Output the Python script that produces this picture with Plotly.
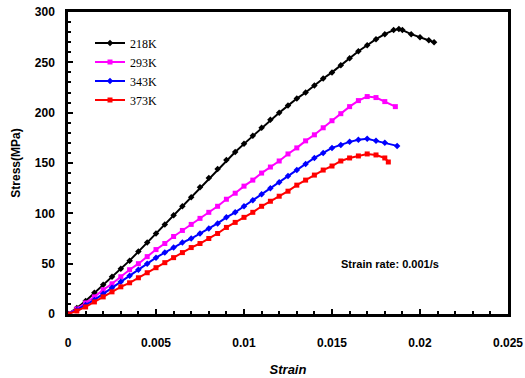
import plotly.graph_objects as go

strain_218 = [0, 0.0005, 0.001, 0.0015, 0.002, 0.0025, 0.003, 0.0035, 0.004, 0.0045, 0.005, 0.0055,
              0.006, 0.0065, 0.007, 0.0075, 0.008, 0.0085, 0.009, 0.0095, 0.01, 0.0105, 0.011, 0.0115,
              0.012, 0.0125, 0.013, 0.0135, 0.014, 0.0145, 0.015, 0.0155, 0.016, 0.0165, 0.017, 0.0175,
              0.018, 0.0185, 0.0188, 0.019, 0.0195, 0.02, 0.0205, 0.0208]
stress_218 = [0, 6, 13, 21, 29, 37, 45, 53, 62, 71, 80, 89, 98, 107, 116, 126, 135, 144, 153, 161, 169,
              177, 185, 193, 200, 207, 214, 220, 227, 234, 240, 247, 254, 261, 267, 273, 278, 282, 283,
              282, 278, 275, 272, 270]

strain_293 = [0, 0.0005, 0.001, 0.0015, 0.002, 0.0025, 0.003, 0.0035, 0.004, 0.0045, 0.005, 0.0055,
              0.006, 0.0065, 0.007, 0.0075, 0.008, 0.0085, 0.009, 0.0095, 0.01, 0.0105, 0.011, 0.0115,
              0.012, 0.0125, 0.013, 0.0135, 0.014, 0.0145, 0.015, 0.0155, 0.016, 0.0165, 0.017, 0.0175,
              0.018, 0.0186]
stress_293 = [0, 5, 11, 17, 24, 30, 37, 44, 50, 57, 64, 70, 77, 83, 89, 95, 101, 107, 114, 120, 127,
              133, 140, 146, 152, 159, 165, 172, 178, 185, 192, 199, 206, 212, 216, 215, 211, 206]

strain_343 = [0, 0.0005, 0.001, 0.0015, 0.002, 0.0025, 0.003, 0.0035, 0.004, 0.0045, 0.005, 0.0055,
              0.006, 0.0065, 0.007, 0.0075, 0.008, 0.0085, 0.009, 0.0095, 0.01, 0.0105, 0.011, 0.0115,
              0.012, 0.0125, 0.013, 0.0135, 0.014, 0.0145, 0.015, 0.0155, 0.016, 0.0165, 0.017, 0.0175,
              0.018, 0.0187]
stress_343 = [0, 4, 9, 14, 20, 26, 32, 38, 44, 50, 56, 61, 66, 71, 75, 80, 85, 90, 96, 101, 107, 113,
              119, 125, 131, 137, 143, 149, 155, 160, 165, 168, 171, 173, 174, 172, 170, 167]

strain_373 = [0, 0.0005, 0.001, 0.0015, 0.002, 0.0025, 0.003, 0.0035, 0.004, 0.0045, 0.005, 0.0055,
              0.006, 0.0065, 0.007, 0.0075, 0.008, 0.0085, 0.009, 0.0095, 0.01, 0.0105, 0.011, 0.0115,
              0.012, 0.0125, 0.013, 0.0135, 0.014, 0.0145, 0.015, 0.0155, 0.016, 0.0165, 0.017, 0.0175,
              0.018, 0.0182]
stress_373 = [0, 3, 7, 12, 17, 22, 27, 31, 36, 41, 46, 51, 56, 61, 66, 70, 75, 80, 86, 91, 96, 101,
              107, 112, 117, 122, 128, 133, 138, 143, 147, 152, 155, 157, 159, 158, 155, 151]

series_names = ["218K", "293K", "343K", "373K"]
series_colors = ["#000000", "#FF00FF", "#0000FF", "#FF0000"]
series_symbols = ["diamond", "square", "diamond", "square"]
series_x = [strain_218, strain_293, strain_343, strain_373]
series_y = [stress_218, stress_293, stress_343, stress_373]

x_ticks = [0, 0.005, 0.01, 0.015, 0.02, 0.025]
x_tick_text = ["0", "0.005", "0.01", "0.015", "0.02", "0.025"]
y_ticks = [0, 50, 100, 150, 200, 250, 300]

fig = go.Figure()
for name, color, sym, xs, ys in zip(series_names, series_colors, series_symbols, series_x, series_y):
    fig.add_trace(go.Scatter(
        x=xs, y=ys, name=name, mode="lines+markers",
        line=dict(color=color, width=2),
        marker=dict(color=color, size=5, symbol=sym),
    ))

bold = dict(family="Liberation Sans", size=12, color="black", weight="bold")

fig.update_layout(
    width=525, height=378,
    margin=dict(l=68, r=17, t=12, b=64),
    paper_bgcolor="white", plot_bgcolor="white",
    showlegend=True,
    legend=dict(x=0.05, y=0.945, xanchor="left", yanchor="top",
                bgcolor="rgba(0,0,0,0)", itemwidth=30,
                font=dict(family="Liberation Serif", size=12, color="black")),
    annotations=[dict(x=0.0183, y=50, xref="x", yref="y", text="Strain rate: 0.001/s",
                      showarrow=False, font=dict(family="Liberation Sans", size=11,
                                                 color="black", weight="bold"))],
)
fig.update_xaxes(
    range=[0, 0.025], tickvals=x_ticks, ticktext=x_tick_text,
    showgrid=False, zeroline=False, automargin=False,
    showline=True, linecolor="black", linewidth=2.5, mirror=True,
    ticks="inside", ticklen=5, tickwidth=2, tickcolor="black",
    minor=dict(ticks="inside", dtick=0.001, ticklen=3, tickwidth=2, tickcolor="black"),
    ticklabelstandoff=16, tickfont=bold,
    title=dict(text="<i>Strain</i>", font=dict(family="Liberation Sans", size=13, color="black", weight="bold"),
               standoff=16),
)
fig.update_yaxes(
    range=[0, 300], tickvals=y_ticks,
    showgrid=False, zeroline=False, automargin=False,
    showline=True, linecolor="black", linewidth=2.5, mirror=True,
    ticks="inside", ticklen=5, tickwidth=2, tickcolor="black",
    minor=dict(ticks="inside", dtick=10, ticklen=3, tickwidth=2, tickcolor="black"),
    ticklabelstandoff=8, tickfont=bold,
    title=dict(text="Stress(MPa)", font=dict(family="Liberation Sans", size=12, color="black", weight="bold"),
               standoff=12),
)

fig.write_html("out.html")
